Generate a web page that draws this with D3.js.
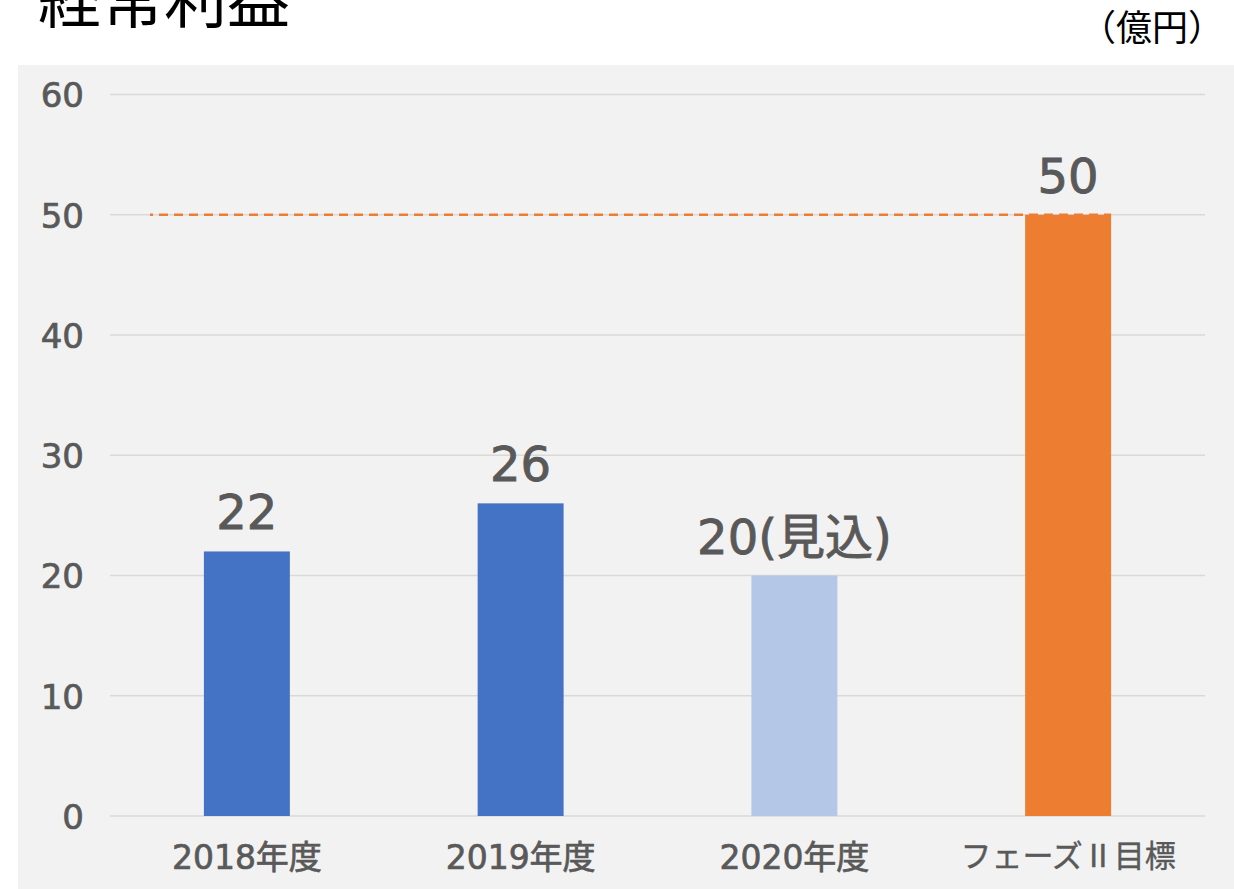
<!DOCTYPE html>
<html><head><meta charset="utf-8">
<script src="https://cdn.jsdelivr.net/npm/d3@7"></script>
<style>
html,body{margin:0;padding:0;background:#fff;}
svg{display:block;font-family:"Noto Sans CJK JP","Noto Sans",sans-serif;}
</style></head>
<body><svg id="c" width="1234" height="889"></svg>
<script>
const categories = ["2018年度","2019年度","2020年度","フェーズⅡ目標"];
const values = [22, 26, 20, 50];
const valueLabels = ["22","26","20(見込)","50"];
const barColors = ["#4472C4","#4472C4","#B4C7E7","#ED7D31"];
const yTicks = [0,10,20,30,40,50,60];
const targetValue = 50;
const title = "経常利益";
const unit = "（億円）";

const numFont = "'DejaVu Sans','Noto Sans CJK JP',sans-serif";
const cjkFont = "'Noto Sans CJK JP',sans-serif";
const svg = d3.select("#c");
const W = 1234, H = 889;
const m = {left:110, right:29};

svg.append("rect").attr("x",18).attr("y",65).attr("width",W-18).attr("height",H-65).attr("fill","#F2F2F2");

const x = d3.scaleBand().domain(categories).range([m.left, W-m.right]).padding(0);
const y = d3.scaleLinear().domain([0,60]).range([816, 94.5]);
const bw = x.bandwidth()*0.314;

// gridlines
svg.append("g").selectAll("line").data(yTicks).join("line")
  .attr("x1",m.left).attr("x2",W-m.right)
  .attr("y1",d=>y(d)).attr("y2",d=>y(d))
  .attr("stroke","#D9D9D9").attr("stroke-width",1.5);

// y axis labels
const yAxis = d3.axisLeft(y).tickValues(yTicks).tickSize(0).tickPadding(0);
const gy = svg.append("g").attr("transform","translate(84,0)").call(yAxis);
gy.select(".domain").remove();
gy.selectAll("text").attr("fill","#595959").attr("font-size",34)
  .attr("stroke","#595959").attr("stroke-width",0.7)
  .attr("font-family",numFont).attr("dy","0.36em");

// bars
svg.append("g").selectAll("rect").data(values).join("rect")
  .attr("x",(d,i)=>x(categories[i])+x.bandwidth()/2-bw/2)
  .attr("width",bw)
  .attr("y",d=>y(d))
  .attr("height",d=>y(0)-y(d))
  .attr("fill",(d,i)=>barColors[i]);

// target dashed line
svg.append("line")
  .attr("x1",150).attr("x2",x(categories[3])+x.bandwidth()/2+bw/2)
  .attr("y1",y(targetValue)).attr("y2",y(targetValue))
  .attr("stroke","#ED7D31").attr("stroke-width",2.5)
  .attr("stroke-dasharray","9,6").attr("stroke-dashoffset",6);

// value labels
svg.append("g").selectAll("text").data(values).join("text")
  .attr("x",(d,i)=>x(categories[i])+x.bandwidth()/2)
  .attr("y",d=>y(d)-22)
  .attr("text-anchor","middle")
  .attr("font-family",numFont)
  .attr("fill","#595959").attr("font-size",48)
  .attr("stroke","#595959").attr("stroke-width",0.9)
  .text((d,i)=>valueLabels[i]);

// x axis labels
const xAxis = d3.axisBottom(x).tickSize(0).tickPadding(0);
const gx = svg.append("g").attr("transform","translate(0,839)").call(xAxis);
gx.select(".domain").remove();
gx.selectAll("text").attr("fill","#595959").attr("font-size",33)
  .attr("stroke","#595959").attr("stroke-width",0.7)
  .attr("dy","0.9em")
  .attr("font-family",d=>/\d/.test(d)?numFont:cjkFont)
  .attr("font-size",d=>/\d/.test(d)?33:31)
  .attr("stroke-width",d=>/\d/.test(d)?0.7:0.4);

// title
svg.append("text").attr("x",38).attr("y",22).attr("font-size",63).attr("fill","#000").text(title);
svg.append("text").attr("x",1224).attr("y",41).attr("text-anchor","end").attr("font-size",36).attr("fill","#000").text(unit);
</script></body></html>
